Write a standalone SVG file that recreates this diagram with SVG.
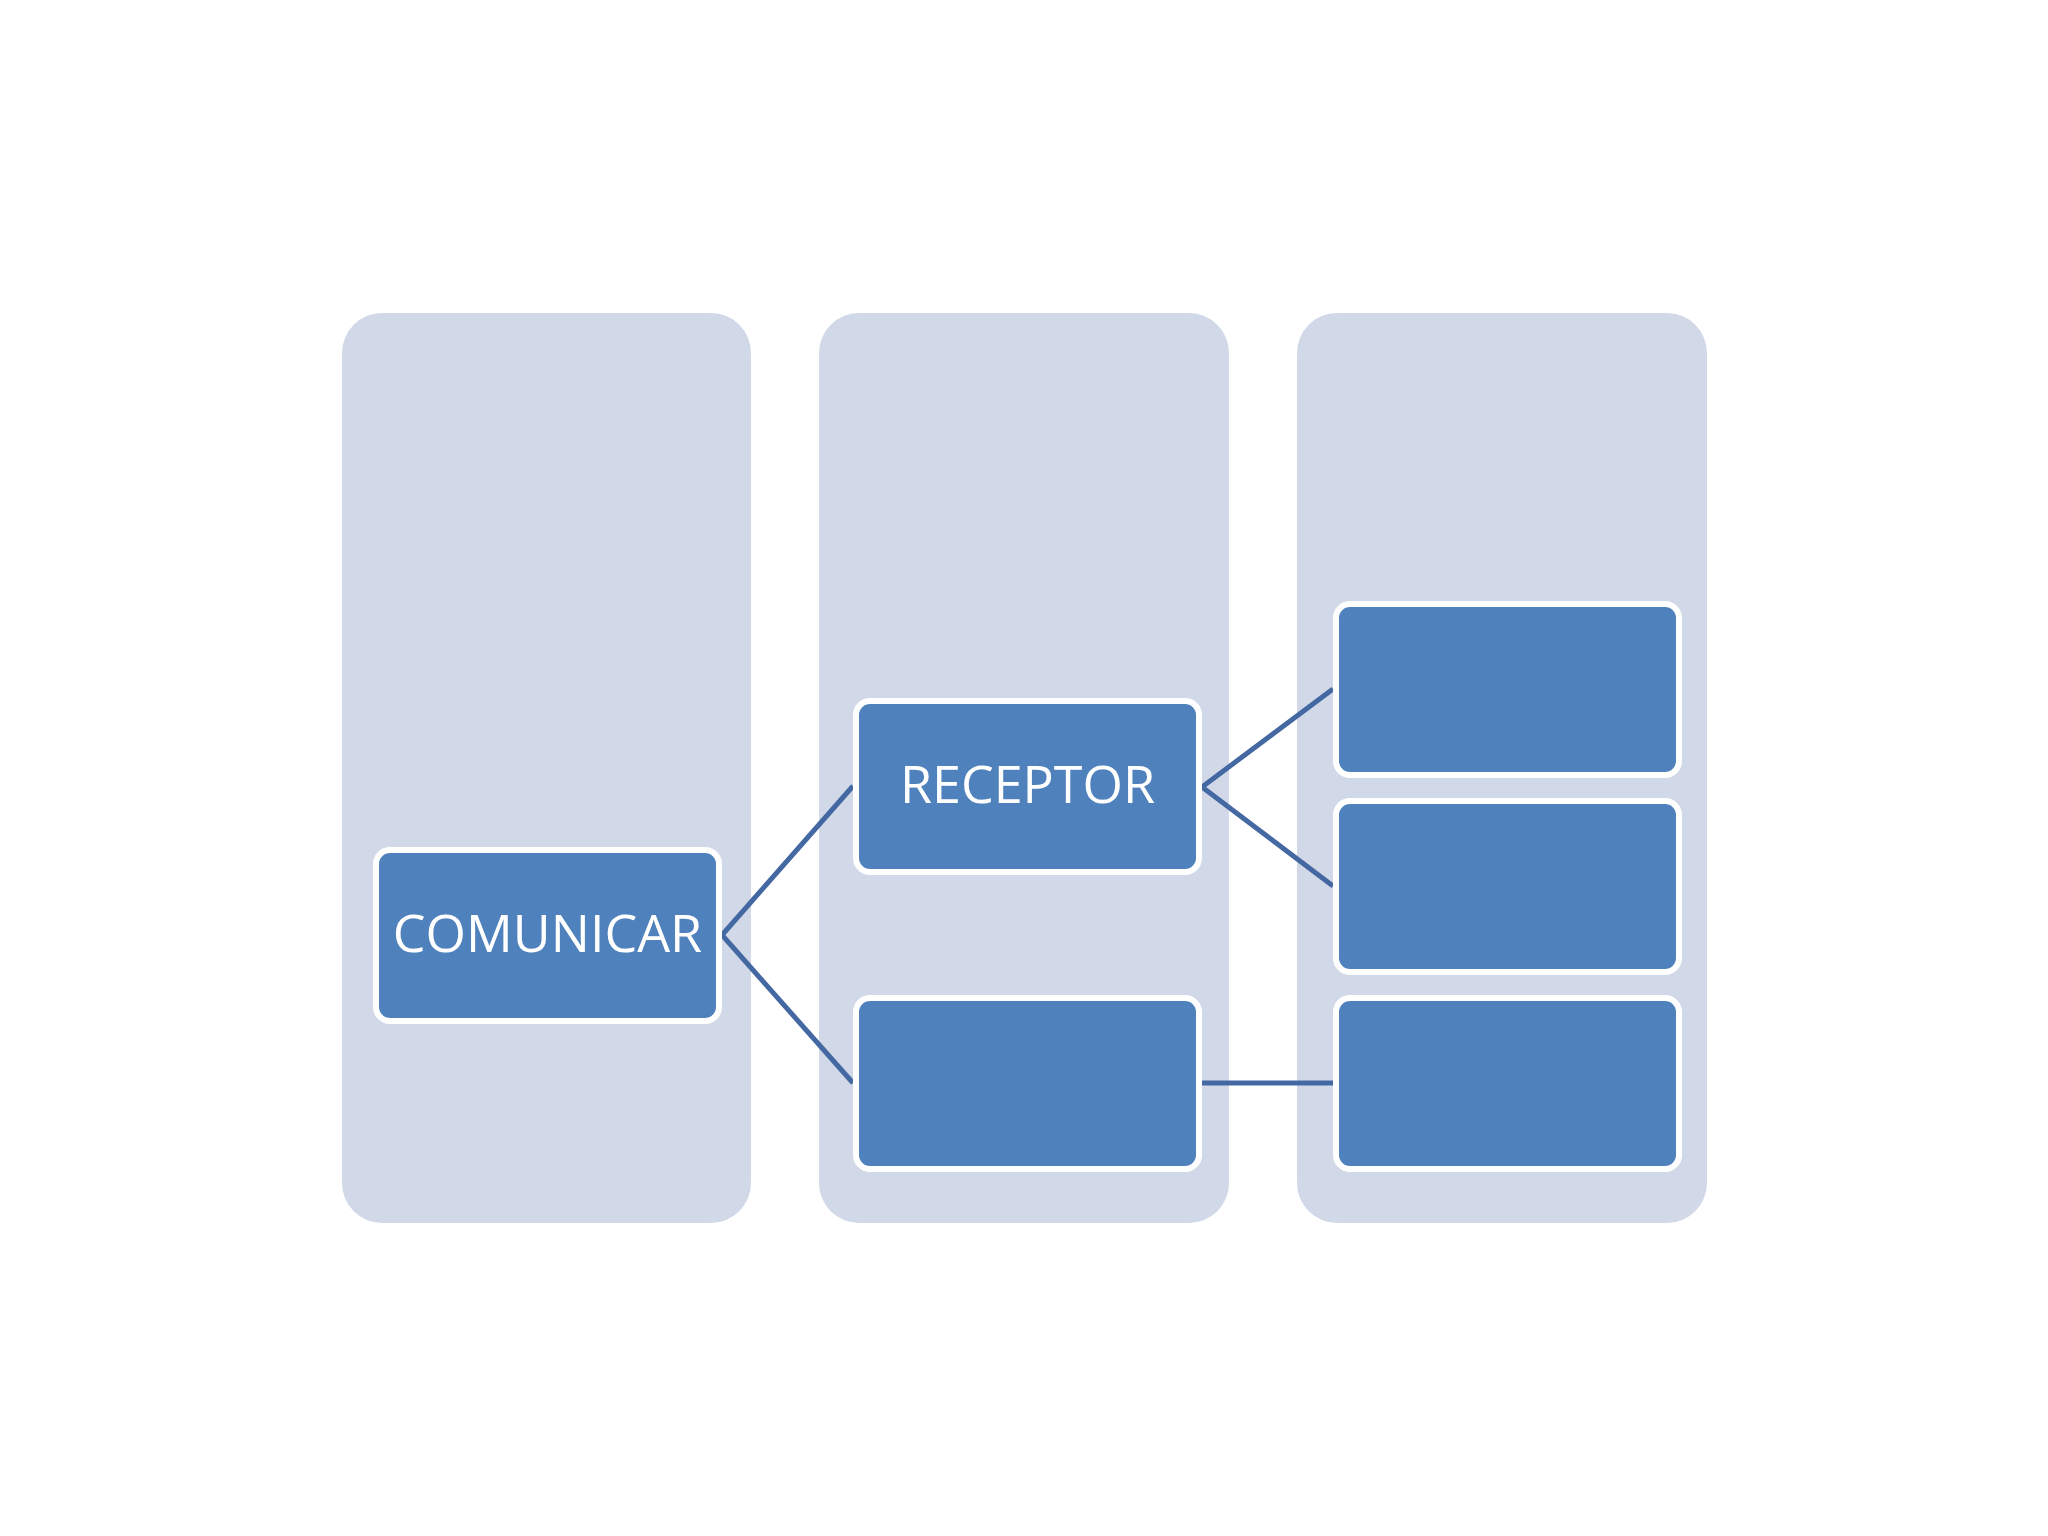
<svg xmlns="http://www.w3.org/2000/svg" width="2048" height="1536" viewBox="0 0 2048 1536">
<style>
.col{fill:#d1d9e8}
.box{fill:#4f81bd;stroke:#ffffff;stroke-width:6}
.conn{stroke:#4468a2;stroke-width:5;fill:none}
.lbl{font-family:"Open Sans","Noto Sans",sans-serif;font-size:52px;fill:#ffffff;text-anchor:middle}
</style>
<rect width="2048" height="1536" fill="#ffffff"/>
<g id="columns">
<rect id="col1" class="col" x="342" y="313" width="409" height="910" rx="40"/>
<rect id="col2" class="col" x="819" y="313" width="410" height="910" rx="40"/>
<rect id="col3" class="col" x="1297" y="313" width="410" height="910" rx="40"/>
</g>
<g id="connectors">
<polyline class="conn" points="853,786 722,935 853,1083"/>
<polyline class="conn" points="1333,689 1202,787 1333,886"/>
<line class="conn" x1="1202" y1="1083" x2="1333" y2="1083"/>
</g>
<g id="comunicar">
<rect class="box" x="376" y="850" width="343" height="171" rx="14"/>
<text class="lbl" x="547.5" y="952">COMUNICAR</text>
</g>
<g id="receptor">
<rect class="box" x="856" y="701" width="343" height="171" rx="14"/>
<text class="lbl" x="1027.5" y="803">RECEPTOR</text>
</g>
<g id="col2-bottom">
<rect class="box" x="856" y="998" width="343" height="171" rx="14"/>
</g>
<g id="col3-top">
<rect class="box" x="1336" y="604" width="343" height="171" rx="14"/>
</g>
<g id="col3-middle">
<rect class="box" x="1336" y="801" width="343" height="171" rx="14"/>
</g>
<g id="col3-bottom">
<rect class="box" x="1336" y="998" width="343" height="171" rx="14"/>
</g>
</svg>
